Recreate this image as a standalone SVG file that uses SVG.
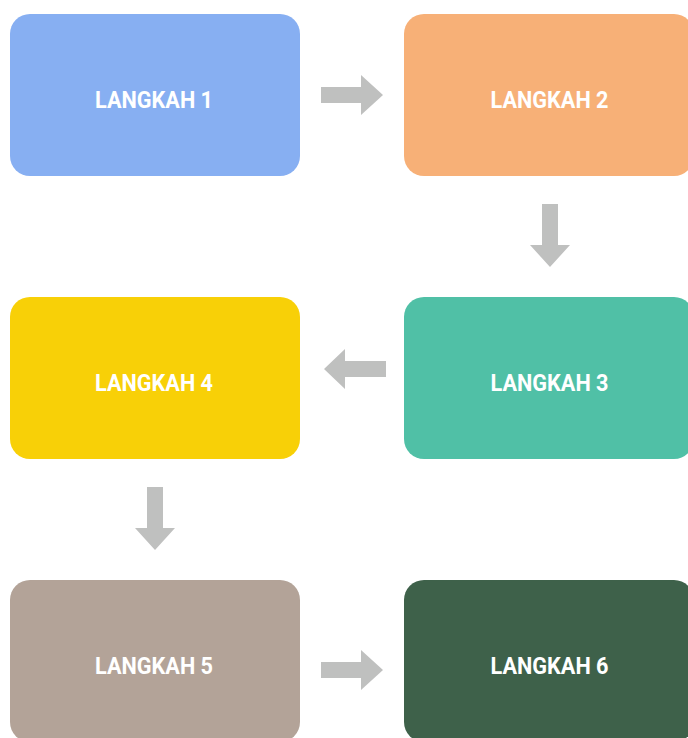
<svg xmlns="http://www.w3.org/2000/svg" width="688" height="738" viewBox="0 0 688 738">
  <style>
    .box { stroke: none; }
    .label { font-family: Roboto, "Liberation Sans", "DejaVu Sans", sans-serif; font-weight: 700; font-size: 23.5px; fill: #ffffff; text-anchor: middle; }
    .arrow { fill: #bfc0bf; stroke: none; }
  </style>
  <rect width="688" height="738" fill="#ffffff"/>

  <g id="step1">
    <rect class="box" x="10" y="14" width="290" height="162" rx="20" fill="#87aff2"/>
    <text class="label" x="154" y="107.5" textLength="118" lengthAdjust="spacingAndGlyphs">LANGKAH 1</text>
  </g>
  <g id="step2">
    <rect class="box" x="404" y="14" width="290" height="162" rx="20" fill="#f7b077"/>
    <text class="label" x="549.5" y="107.5" textLength="118" lengthAdjust="spacingAndGlyphs">LANGKAH 2</text>
  </g>
  <g id="step3">
    <rect class="box" x="404" y="297" width="290" height="162" rx="20" fill="#50c0a6"/>
    <text class="label" x="549.5" y="390.5" textLength="118" lengthAdjust="spacingAndGlyphs">LANGKAH 3</text>
  </g>
  <g id="step4">
    <rect class="box" x="10" y="297" width="290" height="162" rx="20" fill="#f8d007"/>
    <text class="label" x="154" y="390.5" textLength="118" lengthAdjust="spacingAndGlyphs">LANGKAH 4</text>
  </g>
  <g id="step5">
    <rect class="box" x="10" y="580" width="290" height="162" rx="20" fill="#b3a398"/>
    <text class="label" x="154" y="673.5" textLength="118" lengthAdjust="spacingAndGlyphs">LANGKAH 5</text>
  </g>
  <g id="step6">
    <rect class="box" x="404" y="580" width="290" height="162" rx="20" fill="#3e614a"/>
    <text class="label" x="549.5" y="673.5" textLength="118" lengthAdjust="spacingAndGlyphs">LANGKAH 6</text>
  </g>

  <g id="connectors">
    <!-- 1 → 2 -->
    <polygon class="arrow" points="321,87 361,87 361,75 383,95 361,115 361,103 321,103"/>
    <!-- 2 → 3 -->
    <polygon class="arrow" points="542,204 558,204 558,245 570,245 550,267 530,245 542,245"/>
    <!-- 3 → 4 -->
    <polygon class="arrow" points="386,361 345,361 345,349 324,369 345,389 345,377 386,377"/>
    <!-- 4 → 5 -->
    <polygon class="arrow" points="147,487 163,487 163,528 175,528 155,550 135,528 147,528"/>
    <!-- 5 → 6 -->
    <polygon class="arrow" points="321,662 361,662 361,650 383,670 361,690 361,678 321,678"/>
  </g>
</svg>
